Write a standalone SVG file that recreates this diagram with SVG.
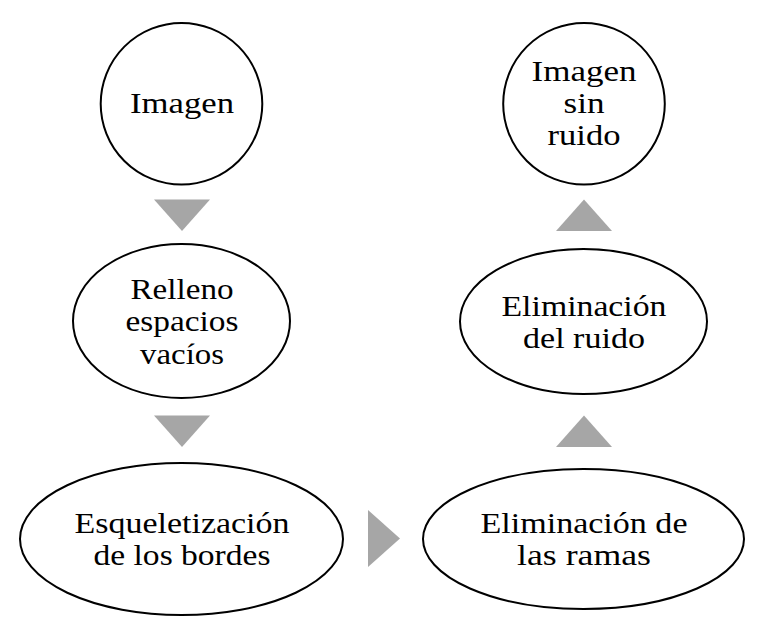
<svg xmlns="http://www.w3.org/2000/svg" width="760" height="626" viewBox="0 0 760 626">
<style>
.n{fill:#fff;stroke:#000;stroke-width:2}
.t{font-family:"Liberation Serif","Times New Roman",serif;font-size:28.5px;fill:#000;text-anchor:middle}
.a{fill:#a6a6a6;stroke:none}
</style>
<rect width="760" height="626" fill="#fff"/>
<g id="connectors">
<polygon class="a" points="154,199.5 210,199.5 182,231"/>
<polygon class="a" points="154,415.5 210,415.5 182,447"/>
<polygon class="a" points="368,510 400,538.5 368,567"/>
<polygon class="a" points="556,447 612,447 584,415.5"/>
<polygon class="a" points="556,231 612,231 584,199.5"/>
</g>
<g id="n1">
<circle class="n" cx="181.5" cy="103.8" r="80.8"/>
<text class="t" x="182" y="113.3" textLength="104" lengthAdjust="spacingAndGlyphs">Imagen</text>
</g>
<g id="n2">
<ellipse class="n" cx="181.5" cy="321" rx="108.5" ry="77"/>
<text class="t" x="182" y="298.5" textLength="103" lengthAdjust="spacingAndGlyphs">Relleno</text>
<text class="t" x="182" y="331" textLength="113" lengthAdjust="spacingAndGlyphs">espacios</text>
<text class="t" x="182" y="363.5" textLength="84" lengthAdjust="spacingAndGlyphs">vacíos</text>
</g>
<g id="n3">
<ellipse class="n" cx="181.5" cy="539" rx="161.5" ry="76"/>
<text class="t" x="182" y="533" textLength="215" lengthAdjust="spacingAndGlyphs">Esqueletización</text>
<text class="t" x="182" y="565" textLength="177" lengthAdjust="spacingAndGlyphs">de los bordes</text>
</g>
<g id="n4">
<ellipse class="n" cx="583.5" cy="539" rx="160.5" ry="70"/>
<text class="t" x="584" y="533" textLength="207" lengthAdjust="spacingAndGlyphs">Eliminación de</text>
<text class="t" x="584" y="565" textLength="134" lengthAdjust="spacingAndGlyphs">las ramas</text>
</g>
<g id="n5">
<ellipse class="n" cx="583.5" cy="321.5" rx="123.5" ry="72.5"/>
<text class="t" x="584" y="315.5" textLength="165" lengthAdjust="spacingAndGlyphs">Eliminación</text>
<text class="t" x="584" y="347.5" textLength="122" lengthAdjust="spacingAndGlyphs">del ruido</text>
</g>
<g id="n6">
<circle class="n" cx="584" cy="103.8" r="80.8"/>
<text class="t" x="584" y="81" textLength="105" lengthAdjust="spacingAndGlyphs">Imagen</text>
<text class="t" x="584" y="113" textLength="41" lengthAdjust="spacingAndGlyphs">sin</text>
<text class="t" x="584" y="145" textLength="73" lengthAdjust="spacingAndGlyphs">ruido</text>
</g>
</svg>
